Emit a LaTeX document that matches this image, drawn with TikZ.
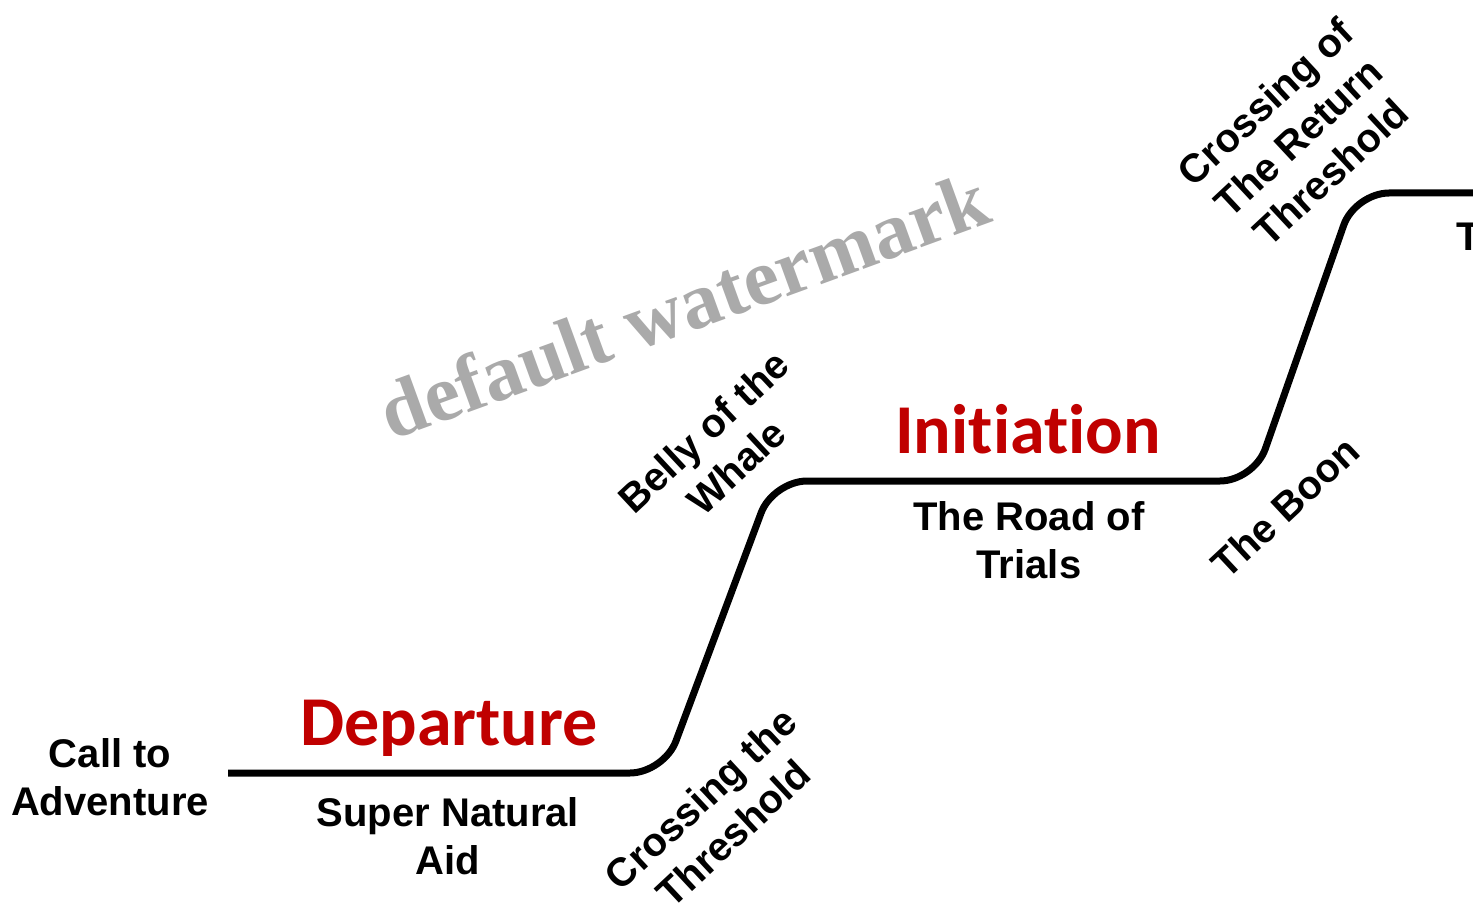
\documentclass[tikz,border=0pt]{standalone}
\usepackage{fontspec}
\setmainfont{Liberation Sans}
\newfontfamily\redfont[Ligatures={NoCommon}]{Carlito}
\newfontfamily\wmfont{Liberation Serif}
\definecolor{stagered}{RGB}{192,0,0}
\definecolor{wmgray}{RGB}{170,170,170}
\begin{document}
\begin{tikzpicture}[x=0.5pt,y=0.5pt,
  lbl/.style={font=\bfseries\fontsize{20}{24}\selectfont, align=center, inner sep=0pt, text=black},
  stage/.style={font=\redfont\bfseries\fontsize{35}{40}\selectfont, text=stagered, inner sep=0pt, anchor=base},
  tilt/.style={lbl, rotate=43},
  journey/.style={line width=3.5pt, rounded corners=17pt}]
\useasboundingbox (0,0) rectangle (1473,907);
% watermark
\node[font=\wmfont\bfseries\fontsize{40}{44}\selectfont, text=wmgray, anchor=base, rotate=20, inner sep=0pt] (wm) at (693,576) {default watermark};
% path
\coordinate (p0) at (228,134);
\coordinate (p1) at (664,134);
\coordinate (p2) at (773,426);
\coordinate (p3) at (1254,426);
\coordinate (p4) at (1355,714);
\coordinate (p5) at (1473,714);
\draw[journey] (p0) -- (p1) -- (p2) -- (p3) -- (p4) -- (p5);
% labels
\node[lbl] (call) at (110,130) {Call to\\Adventure};
\node[lbl] (aid) at (448,71) {Super Natural\\Aid};
\node[lbl] (road) at (1029,367) {The Road of\\Trials};
\node[stage] (dep) at (449,162) {Departure};
\node[stage] (ini) at (1028,454) {Initiation};
\node[tilt] (cross) at (717,91) {Crossing the\\Threshold};
\node[tilt] (belly) at (720,458) {Belly of the\\Whale};
\node[tilt] (boon) at (1285,400) {The Boon};
\node[tilt] (ret) at (1298,770) {Crossing of\\The Return\\Threshold};
\node[lbl, anchor=west] (t) at (1456,670) {T};
\end{tikzpicture}
\end{document}
